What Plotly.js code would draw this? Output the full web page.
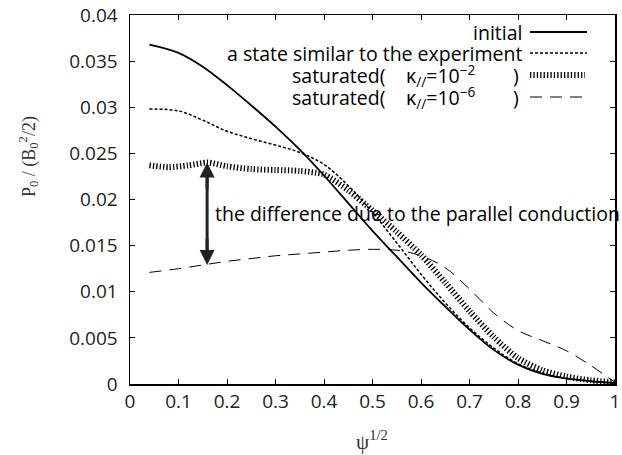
<!DOCTYPE html>
<html>
<head>
<meta charset="utf-8">
<script src="https://cdn.plot.ly/plotly-3.0.1.min.js"></script>
<style>html,body{margin:0;padding:0;background:#fff;}#chart{width:622px;height:455px;}</style>
</head>
<body>
<div id="chart"></div>
<script>
// psi^{1/2} sample positions
const xInitial = [0.04, 0.1, 0.15, 0.2, 0.25, 0.3, 0.35, 0.4, 0.45, 0.5, 0.55, 0.6, 0.65, 0.7, 0.75, 0.8, 0.85, 0.9, 0.95, 1.0];
const yInitial = [0.0368, 0.0359, 0.0344, 0.0324, 0.0302, 0.0279, 0.0254, 0.0226, 0.0196, 0.0166, 0.0138, 0.0110, 0.0084, 0.0059, 0.0037, 0.0021, 0.0011, 0.0006, 0.0003, 0.0001];

const xExperiment = [0.04, 0.1, 0.15, 0.2, 0.25, 0.3, 0.35, 0.4, 0.45, 0.5, 0.55, 0.6, 0.65, 0.7, 0.75, 0.8, 0.85, 0.9, 0.95, 1.0];
const yExperiment = [0.0298, 0.0296, 0.0286, 0.0274, 0.0266, 0.0259, 0.0251, 0.0238, 0.0215, 0.0186, 0.0153, 0.0119, 0.0088, 0.0061, 0.0039, 0.0022, 0.0012, 0.0006, 0.0003, 0.0001];

const xSat2 = [0.04, 0.08, 0.12, 0.16, 0.2, 0.25, 0.3, 0.35, 0.4, 0.45, 0.5, 0.55, 0.6, 0.65, 0.7, 0.75, 0.8, 0.85, 0.9, 0.95, 1.0];
const ySat2 = [0.0237, 0.0235, 0.0237, 0.0240, 0.0236, 0.0233, 0.0232, 0.0231, 0.0227, 0.0210, 0.0188, 0.0165, 0.0140, 0.0110, 0.0079, 0.0051, 0.0028, 0.0015, 0.0008, 0.0004, 0.0002];

const xSat6 = [0.04, 0.1, 0.15, 0.2, 0.25, 0.3, 0.35, 0.4, 0.45, 0.5, 0.55, 0.6, 0.65, 0.7, 0.75, 0.8, 0.85, 0.9, 0.95, 1.0];
const ySat6 = [0.0121, 0.0125, 0.0129, 0.0133, 0.0136, 0.0139, 0.0141, 0.0143, 0.0145, 0.0146, 0.0145, 0.0139, 0.0126, 0.0103, 0.0077, 0.0058, 0.0047, 0.0036, 0.0020, 0.0002];

const xTickVals = [0, 0.1, 0.2, 0.3, 0.4, 0.5, 0.6, 0.7, 0.8, 0.9, 1];
const xTickText = ['0', '0.1', '0.2', '0.3', '0.4', '0.5', '0.6', '0.7', '0.8', '0.9', '1'];
const yTickVals = [0, 0.005, 0.01, 0.015, 0.02, 0.025, 0.03, 0.035, 0.04];
const yTickText = ['0', '0.005', '0.01', '0.015', '0.02', '0.025', '0.03', '0.035', '0.04'];

// arrow: difference due to parallel conduction
const arrowX = 0.159;
const arrowTop = 0.0240;
const arrowBottom = 0.0129;

const SANS = '"Open Sans", "Noto Sans", sans-serif';
const SERIF = '"Liberation Serif", "DejaVu Serif", serif';

const styles = {
  initial: {color: '#000', width: 1.8, dash: 'solid'},
  experiment: {color: '#000', width: 1.5, dash: '3px,2px'},
  sat2: {color: '#000', width: 6, dash: '1.3px,2.1px'},
  sat6: {color: '#000', width: 1, dash: '12px,8px'}
};

const spl = s => Object.assign({shape: 'spline', smoothing: 1}, s);
const traces = [
  {x: xInitial, y: yInitial, mode: 'lines', line: spl(styles.initial), showlegend: false},
  {x: xExperiment, y: yExperiment, mode: 'lines', line: spl(styles.experiment), showlegend: false},
  {x: xSat2, y: ySat2, mode: 'lines', line: Object.assign({shape: 'spline', smoothing: 0.7}, styles.sat2), showlegend: false},
  {x: xSat6, y: ySat6, mode: 'lines', line: spl(styles.sat6), showlegend: false}
];

// legend rows (paper coords)
const L = 130, R = 615, T = 15, B = 384;
const px = v => (v - L) / (R - L);
const py = v => (B - v) / (B - T);
const rowsY = [32, 53, 75, 97];
const sampleX0 = px(530), sampleX1 = px(587), textRight = px(524);
const legFont = {family: SANS, size: 19.5, color: '#000'};

const shapes = [
  {type: 'line', xref: 'paper', yref: 'paper', x0: sampleX0, x1: sampleX1, y0: py(rowsY[0]), y1: py(rowsY[0]), line: styles.initial},
  {type: 'line', xref: 'paper', yref: 'paper', x0: sampleX0, x1: sampleX1, y0: py(rowsY[1]), y1: py(rowsY[1]), line: styles.experiment},
  {type: 'line', xref: 'paper', yref: 'paper', x0: sampleX0, x1: sampleX1 - 0.004, y0: py(rowsY[2]), y1: py(rowsY[2]), line: styles.sat2},
  {type: 'line', xref: 'paper', yref: 'paper', x0: sampleX0, x1: sampleX1, y0: py(rowsY[3]), y1: py(rowsY[3]), line: styles.sat6},
  // arrow shaft
  {type: 'line', xref: 'x', yref: 'y', x0: arrowX, x1: arrowX, y0: arrowBottom + 0.0008, y1: arrowTop - 0.0008, line: {color: '#222', width: 3}}
];

const ann = (text, x, y, xanchor, extra) => Object.assign({
  text: text, x: x, y: y, xref: 'paper', yref: 'paper', xanchor: xanchor, yanchor: 'middle',
  showarrow: false, font: legFont
}, extra || {});

const annotations = [
  ann('initial', textRight, py(rowsY[0]), 'right'),
  ann('a state similar to the experiment', textRight, py(rowsY[1]), 'right'),
  ann('saturated(', px(388), py(rowsY[2]), 'right'),
  ann('κ<sub>//</sub>=10<sup>−2</sup>', px(404), py(rowsY[2]), 'left'),
  ann(')', px(511), py(rowsY[2]), 'left'),
  ann('saturated(', px(388), py(rowsY[3]), 'right'),
  ann('κ<sub>//</sub>=10<sup>−6</sup>', px(404), py(rowsY[3]), 'left'),
  ann(')', px(511), py(rowsY[3]), 'left'),
  // difference text
  ann('the difference due to the parallel conduction', px(213), py(214), 'left'),
  // axis titles
  {text: 'P<sub>0</sub> / (B<sub>0</sub><sup>2</sup>/2)', x: px(28), y: py(157), xref: 'paper', yref: 'paper',
   xanchor: 'center', yanchor: 'middle', textangle: -90, showarrow: false, font: {family: SERIF, size: 18, color: '#333'}},
  {text: 'ψ<sup>1/2</sup>', x: px(372), y: py(440), xref: 'paper', yref: 'paper',
   xanchor: 'center', yanchor: 'middle', showarrow: false, font: {family: SERIF, size: 21, color: '#333'}},
  // arrowheads at both ends
  {x: arrowX, y: arrowTop, ax: arrowX, ay: arrowTop - 0.003, xref: 'x', yref: 'y', axref: 'x', ayref: 'y',
   text: '', showarrow: true, arrowhead: 2, arrowsize: 1, arrowwidth: 3, arrowcolor: '#222', standoff: 0, startstandoff: 0},
  {x: arrowX, y: arrowBottom, ax: arrowX, ay: arrowBottom + 0.003, xref: 'x', yref: 'y', axref: 'x', ayref: 'y',
   text: '', showarrow: true, arrowhead: 2, arrowsize: 1, arrowwidth: 3, arrowcolor: '#222', standoff: 0, startstandoff: 0}
];

const axisCommon = {
  showgrid: false, zeroline: false, showline: true, linecolor: '#000', linewidth: 1.5,
  mirror: 'allticks', ticks: 'inside', ticklen: 5, tickwidth: 1, tickcolor: '#000',
  tickfont: {family: SANS, size: 19, color: '#222'}, tickmode: 'array'
};

const layout = {
  width: 622, height: 455,
  margin: {l: L, r: 622 - R, t: T, b: 455 - B, pad: 0},
  paper_bgcolor: '#fff', plot_bgcolor: '#fff',
  showlegend: false,
  xaxis: Object.assign({}, axisCommon, {range: [0, 1], tickvals: xTickVals, ticktext: xTickText, ticklabelstandoff: 0}),
  yaxis: Object.assign({}, axisCommon, {range: [0, 0.04], tickvals: yTickVals, ticktext: yTickText, ticklabelstandoff: 7}),
  shapes: shapes,
  annotations: annotations
};

Plotly.newPlot('chart', traces, layout, {staticPlot: true, displayModeBar: false});
</script>
</body>
</html>
